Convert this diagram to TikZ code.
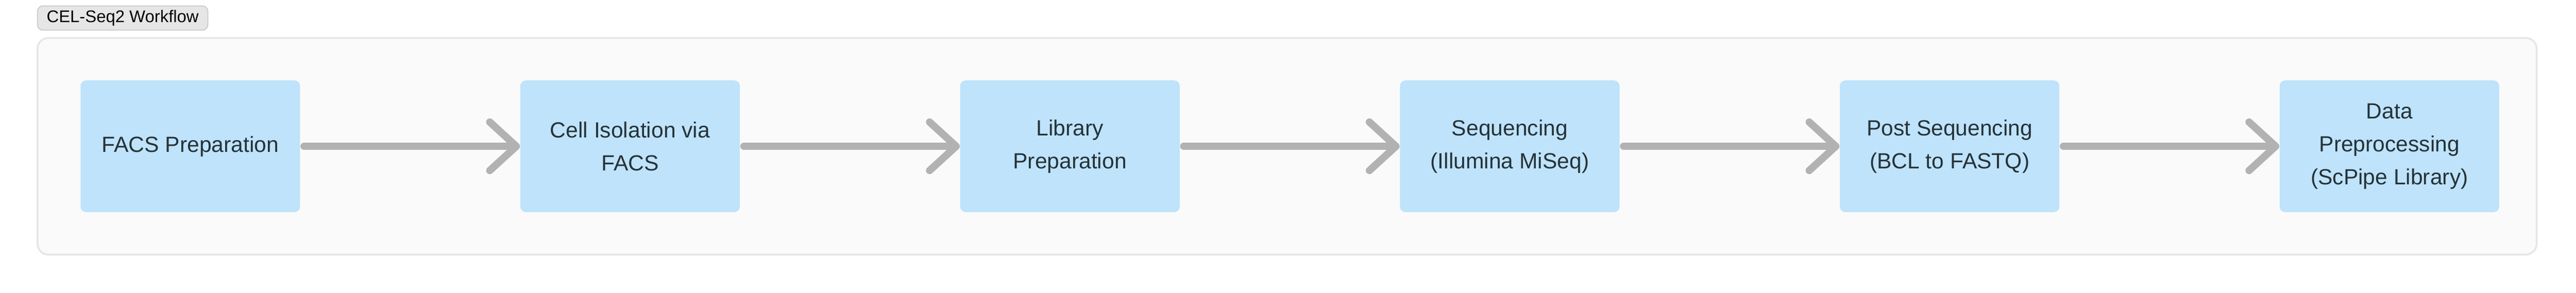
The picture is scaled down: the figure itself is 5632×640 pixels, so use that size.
\documentclass[tikz,border=0pt]{standalone}
\usepackage{fontspec}
\setmainfont{Liberation Sans}
\usetikzlibrary{positioning,arrows.meta}

\definecolor{stepfill}{RGB}{190,227,251}
\definecolor{steptext}{RGB}{38,50,56}
\definecolor{panelfill}{RGB}{250,250,250}
\definecolor{panelline}{RGB}{230,230,230}
\definecolor{tagfill}{RGB}{230,230,230}
\definecolor{tagline}{RGB}{200,200,200}
\definecolor{flowgray}{RGB}{178,178,178}

\begin{document}
\begin{tikzpicture}[x=0.25pt,y=-0.25pt,
        stepbox/.style={fill=stepfill, text=steptext, rounded corners=3pt, minimum width=120pt, minimum height=72pt, inner sep=0pt, align=center, font=\fontsize{12pt}{18pt}\selectfont},
        tagbox/.style={fill=tagfill, draw=tagline, line width=0.5pt, rounded corners=3pt, minimum height=13.25pt, inner xsep=5pt, inner ysep=0pt, font=\fontsize{9.25pt}{11pt}\selectfont},
        flow/.style={draw=flowgray, line width=4pt, line cap=round, shorten <=2pt, -{Straight Barb[length=14.5pt,width=26.5pt,round]}}]
        \useasboundingbox (0,0) rectangle (5632,640);
        \fill[white] (0,0) rectangle (5632,640);
        % panel
        \draw[fill=panelfill, draw=panelline, line width=1pt, rounded corners=6pt] (82,83) rectangle (5546,557);
        \node[tagbox, anchor=west] (title) at (81,39.5) {CEL-Seq2 Workflow};

        % steps
        \node[stepbox] (facs) at (416,320) {FACS Preparation};
        \node[stepbox, right=120pt of facs] (isolation) {Cell Isolation via\\FACS};
        \node[stepbox, right=120pt of isolation] (library) {Library\\Preparation};
        \node[stepbox, right=120pt of library] (seq) {Sequencing\\(Illumina MiSeq)};
        \node[stepbox, right=120pt of seq] (postseq) {Post Sequencing\\(BCL to FASTQ)};
        \node[stepbox, right=120pt of postseq] (preproc) {Data\\Preprocessing\\(ScPipe Library)};

        \foreach \a/\b in {facs/isolation, isolation/library, library/seq, seq/postseq, postseq/preproc}
            \draw[flow] (\a) -- (\b);
    \end{tikzpicture}
\end{document}
